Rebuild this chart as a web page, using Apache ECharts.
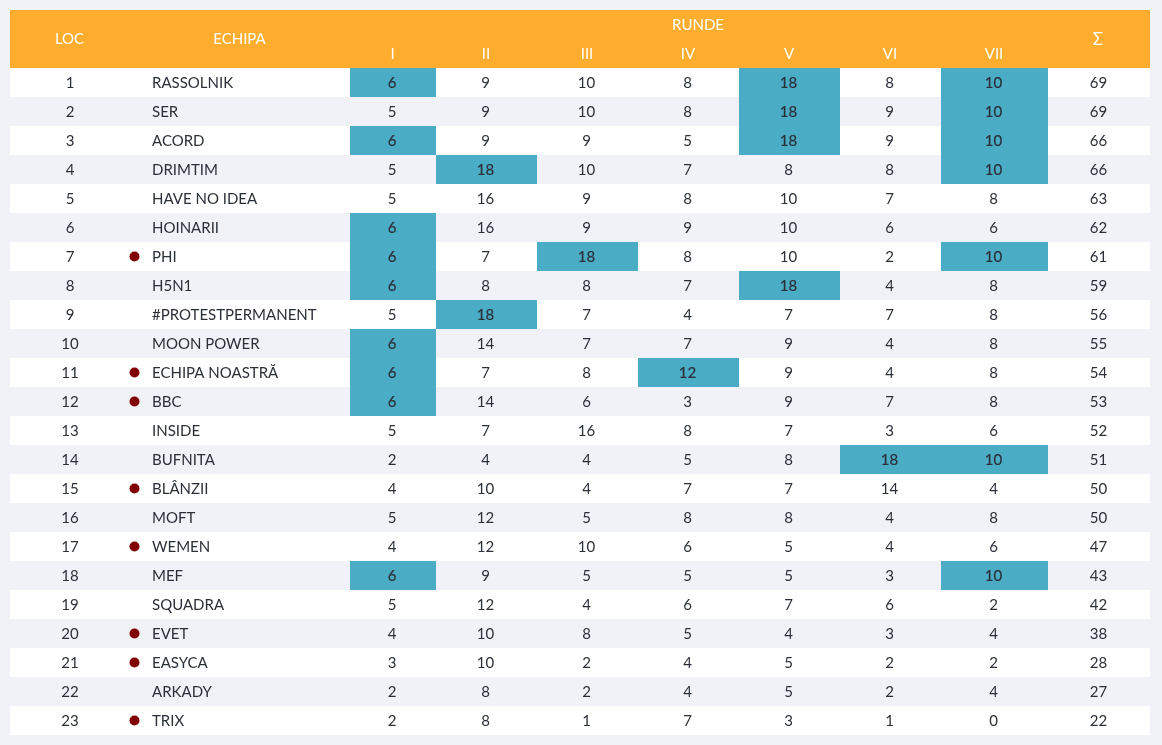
<!DOCTYPE html>
<html>
<head>
<meta charset="utf-8">
<style>html,body{margin:0;padding:0;background:#f1f2f8}#main{width:1162px;height:745px}</style>
<script src="https://cdn.jsdelivr.net/npm/echarts@6/dist/echarts.min.js"></script>
</head>
<body>
<div id="main"></div>
<script>
var ranks = [1,2,3,4,5,6,7,8,9,10,11,12,13,14,15,16,17,18,19,20,21,22,23];
var teams = ['RASSOLNIK','SER','ACORD','DRIMTIM','HAVE NO IDEA','HOINARII','PHI','H5N1','#PROTESTPERMANENT','MOON POWER','ECHIPA NOASTRĂ','BBC','INSIDE','BUFNITA','BLÂNZII','MOFT','WEMEN','MEF','SQUADRA','EVET','EASYCA','ARKADY','TRIX'];
var dotted = ['PHI','ECHIPA NOASTRĂ','BBC','BLÂNZII','WEMEN','EVET','EASYCA','TRIX'];
var roundNames = ['I','II','III','IV','V','VI','VII'];
var r1 = [6,5,6,5,5,6,6,6,5,6,6,6,5,2,4,5,4,6,5,4,3,2,2];
var r2 = [9,9,9,18,16,16,7,8,18,14,7,14,7,4,10,12,12,9,12,10,10,8,8];
var r3 = [10,10,9,10,9,9,18,8,7,7,8,6,16,4,4,5,10,5,4,8,2,2,1];
var r4 = [8,8,5,7,8,9,8,7,4,7,12,3,8,5,7,8,6,5,6,5,4,4,7];
var r5 = [18,18,18,8,10,10,10,18,7,9,9,9,7,8,7,8,5,5,7,4,5,5,3];
var r6 = [8,9,9,8,7,6,2,4,7,4,4,7,3,18,14,4,4,3,6,3,2,2,1];
var r7 = [10,10,10,10,8,6,10,8,8,8,8,8,6,10,4,8,6,10,2,4,2,4,0];
var totals = [69,69,66,66,63,62,61,59,56,55,54,53,52,51,50,50,47,43,42,38,28,27,22];
// cells that are highlighted: [row, round]
var highlighted = [[0,0],[0,4],[0,6],[1,4],[1,6],[2,0],[2,4],[2,6],[3,1],[3,6],[5,0],[6,0],[6,2],[6,6],[7,0],[7,4],[8,1],[9,0],[10,0],[10,3],[11,0],[13,5],[13,6],[17,0],[17,6]];

// column edges, px from the table's left side
var roundEdges = [340,426,527,628,729,830,931,1038];
var tableW = 1140;
var headH = 58, rowH = 29;

var rounds = [r1,r2,r3,r4,r5,r6,r7];
var font = 'Lato, sans-serif';
var textColor = '#2b2f38';
var cellData = [];
ranks.forEach(function (rank, i) {
  rounds.forEach(function (r, j) {
    cellData.push([j, i, r[i]]);
  });
});
function isHigh(i, j) {
  return highlighted.some(function (h) { return h[0] === i && h[1] === j; });
}

var option = {
  animation: false,
  backgroundColor: '#f1f2f8',
  grid: { left: 10, top: 68, width: tableW, height: rowH * ranks.length },
  xAxis: { type: 'value', min: 0, max: tableW, show: false },
  yAxis: { type: 'category', inverse: true, data: teams, show: false },
  series: [
    {
      // row stripes and the fixed columns
      type: 'custom',
      coordinateSystem: 'cartesian2d',
      silent: true,
      data: ranks.map(function (rank, i) { return [0, i]; }),
      renderItem: function (params, api) {
        var i = api.value(1);
        var y = api.coord([0, i])[1] + 1;
        var x0 = api.coord([0, i])[0];
        var h = api.size([0, 1])[1];
        var kids = [
          { type: 'rect', shape: { x: x0, y: y - 1 - h / 2, width: tableW, height: h }, style: { fill: i % 2 ? '#f1f2f8' : '#fff' } },
          { type: 'text', style: { x: x0 + 60, y: y, text: String(ranks[i]), font: '15px ' + font, fill: textColor, align: 'center', verticalAlign: 'middle' } },
          { type: 'text', style: { x: x0 + 142, y: y, text: teams[i], font: '15px ' + font, fill: textColor, align: 'left', verticalAlign: 'middle' } },
          { type: 'text', style: { x: x0 + 1088.5, y: y, text: String(totals[i]), font: '15px ' + font, fill: textColor, align: 'center', verticalAlign: 'middle' } }
        ];
        if (dotted.indexOf(teams[i]) >= 0) {
          kids.push({ type: 'circle', shape: { cx: x0 + 124.5, cy: y - 1, r: 5 }, style: { fill: '#800000' } });
        }
        return { type: 'group', children: kids };
      }
    },
    {
      // the seven round columns
      type: 'custom',
      coordinateSystem: 'cartesian2d',
      silent: true,
      data: cellData,
      renderItem: function (params, api) {
        var j = api.value(0), i = api.value(1), v = api.value(2);
        var a = api.coord([roundEdges[j], i]);
        var b = api.coord([roundEdges[j + 1], i]);
        var h = api.size([0, 1])[1];
        var high = isHigh(i, j);
        var kids = [];
        if (high) {
          kids.push({ type: 'rect', shape: { x: a[0], y: a[1] - h / 2, width: b[0] - a[0], height: h }, style: { fill: '#4bacc6' } });
        }
        kids.push({ type: 'text', style: {
          x: (a[0] + b[0]) / 2 - 1, y: a[1] + 1, text: String(v), font: '15px ' + font, fill: textColor,
          stroke: high ? textColor : null, lineWidth: high ? 0.2 : 0, align: 'center', verticalAlign: 'middle'
        } });
        return { type: 'group', children: kids };
      }
    },
    {
      // header band
      type: 'custom',
      coordinateSystem: 'cartesian2d',
      silent: true,
      data: [[0, 0]],
      clip: false,
      renderItem: function (params, api) {
        var x0 = api.coord([0, 0])[0];
        var top = params.coordSys.y - headH;
        var kids = [
          { type: 'rect', shape: { x: x0, y: top, width: tableW, height: headH }, style: { fill: '#ffad2f' } },
          { type: 'text', style: { x: x0 + 59.5, y: top + 29, text: 'LOC', font: '15px ' + font, fill: '#fff', align: 'center', verticalAlign: 'middle' } },
          { type: 'text', style: { x: x0 + 229.5, y: top + 29, text: 'ECHIPA', font: '15px ' + font, fill: '#fff', align: 'center', verticalAlign: 'middle' } },
          { type: 'text', style: { x: x0 + 688, y: top + 15, text: 'RUNDE', font: '15px ' + font, fill: '#fff', align: 'center', verticalAlign: 'middle' } },
          { type: 'text', style: { x: x0 + 1088, y: top + 30, text: 'Σ', font: '17px ' + font, fill: '#fff', align: 'center', verticalAlign: 'middle' } }
        ];
        roundNames.forEach(function (n, j) {
          kids.push({ type: 'text', style: { x: x0 + (roundEdges[j] + roundEdges[j + 1]) / 2 - 0.5, y: top + 44, text: n, font: '15px ' + font, fill: '#fff', align: 'center', verticalAlign: 'middle' } });
        });
        return { type: 'group', children: kids };
      }
    }
  ]
};
echarts.init(document.getElementById('main')).setOption(option);
</script>
</body>
</html>
